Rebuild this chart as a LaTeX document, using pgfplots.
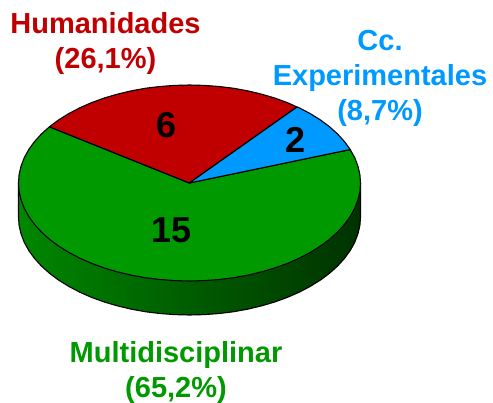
\documentclass[border=0pt]{standalone}
\usepackage{fontspec}
\setmainfont{Liberation Sans}
\usepackage{pgfplots}
\pgfplotsset{compat=1.18}
\definecolor{cred}{RGB}{192,0,0}
\definecolor{cgreen}{RGB}{0,153,0}
\definecolor{cblue}{RGB}{0,153,255}
\definecolor{sideL}{RGB}{0,135,0}
\definecolor{sideM}{RGB}{0,75,0}
\definecolor{sideR}{RGB}{0,50,0}
\begin{document}
\begin{tikzpicture}[x=1pt,y=1pt]
\begin{axis}[
  scale only axis, width=493pt, height=402pt,
  xmin=0, xmax=493, ymin=0, ymax=402, y dir=reverse,
  hide axis, clip=false,
  every axis plot/.append style={line width=1.1pt, line join=round, mark=none},
]
\path[use as bounding box] (axis cs:0,0) rectangle (axis cs:493,402);
% side of the disc
\addplot[draw=black, left color=sideL, middle color=sideM, right color=sideR] coordinates {
(18.5,183)(18.5,217)(19.1,225.5)(21.1,234)(24.3,242.4)(28.8,250.5)(34.5,258.4)(41.4,266)(49.4,273.2)(58.5,280)(68.6,286.3)(79.6,292.1)(91.4,297.3)(104,301.9)(117.2,305.8)(131,309.1)(145.2,311.7)(159.8,313.5)(174.6,314.6)(189.5,315)(204.4,314.6)(219.2,313.5)(233.8,311.7)(248,309.1)(261.8,305.8)(275,301.9)(287.6,297.3)(299.4,292.1)(310.4,286.3)(320.5,280)(329.6,273.2)(337.6,266)(344.5,258.4)(350.2,250.5)(354.7,242.4)(357.9,234)(359.9,225.5)(360.5,217)(360.5,183)
} --cycle;
% Multidisciplinar
\addplot[draw=black, fill=cgreen] coordinates {
(189.3,183)(49.4,126.8)(41.4,134)(34.5,141.6)(28.8,149.5)(24.3,157.6)(21.1,166)(19.1,174.5)(18.5,183)(19.1,191.5)(21.1,200)(24.3,208.4)(28.8,216.5)(34.5,224.4)(41.4,232)(49.4,239.2)(58.5,246)(68.6,252.3)(79.6,258.1)(91.4,263.3)(104,267.9)(117.2,271.8)(131,275.1)(145.2,277.7)(159.8,279.5)(174.6,280.6)(189.5,281)(204.4,280.6)(219.2,279.5)(233.8,277.7)(248,275.1)(261.8,271.8)(275,267.9)(287.6,263.3)(299.4,258.1)(310.4,252.3)(320.5,246)(329.6,239.2)(337.6,232)(344.5,224.4)(350.2,216.5)(354.7,208.4)(357.9,200)(359.9,191.5)(360.5,183)(359.9,174.5)(357.9,166)(354.7,157.6)(350.2,149.5)
} --cycle;
% Humanidades
\addplot[draw=black, fill=cred] coordinates {
(189.3,183)(297,107)(287.6,102.7)(275,98.1)(261.8,94.2)(248,90.9)(233.8,88.3)(219.2,86.5)(204.4,85.4)(189.5,85)(174.6,85.4)(159.8,86.5)(145.2,88.3)(131,90.9)(117.2,94.2)(104,98.1)(91.4,102.7)(79.6,107.9)(68.6,113.7)(58.5,120)(49.4,126.8)
} --cycle;
% Cc. Experimentales
\addplot[draw=black, fill=cblue] coordinates {
(189.3,183)(350.2,149.5)(344.5,141.6)(337.6,134)(329.6,126.8)(320.5,120)(310.4,113.7)(299.4,107.9)(297,107)
} --cycle;
% values on the slices
\node[anchor=base, font=\fontsize{36}{36}\selectfont\bfseries, text=black] at (axis cs:167,137) {6};
\node[anchor=base, font=\fontsize{36}{36}\selectfont\bfseries, text=black] at (axis cs:296,152.5) {2};
\node[anchor=base, font=\fontsize{36}{36}\selectfont\bfseries, text=black] at (axis cs:171.5,242.5) {15};
% labels
\node[anchor=base, font=\fontsize{29}{29}\selectfont\bfseries, text=cred] at (axis cs:105.5,33) {Humanidades};
\node[anchor=base, font=\fontsize{29}{29}\selectfont\bfseries, text=cred] at (axis cs:105.5,68) {(26,1\%)};
\node[anchor=base, font=\fontsize{29}{29}\selectfont\bfseries, text=cblue] at (axis cs:380,50) {Cc.};
\node[anchor=base, font=\fontsize{29}{29}\selectfont\bfseries, text=cblue] at (axis cs:380,85) {Experimentales};
\node[anchor=base, font=\fontsize{29}{29}\selectfont\bfseries, text=cblue] at (axis cs:380,120) {(8,7\%)};
\node[anchor=base, font=\fontsize{29}{29}\selectfont\bfseries, text=cgreen] at (axis cs:176,362) {Multidisciplinar};
\node[anchor=base, font=\fontsize{29}{29}\selectfont\bfseries, text=cgreen] at (axis cs:176,397) {(65,2\%)};
\end{axis}
\end{tikzpicture}
\end{document}
